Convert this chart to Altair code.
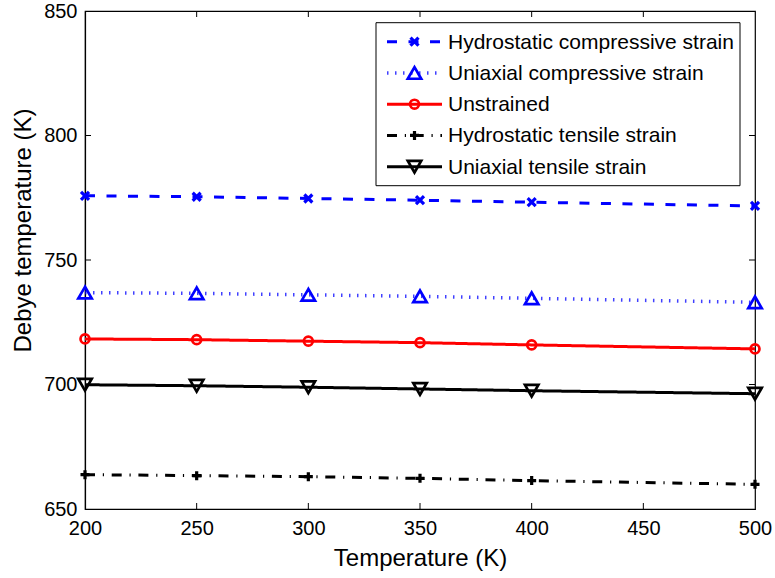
import altair as alt
import pandas as pd

# ---- data ----
temperature = [200, 250, 300, 350, 400, 500]
hydro_comp = [775.8, 775.4, 774.7, 774.0, 773.2, 771.7]
uni_comp = [736.9, 736.6, 736.0, 735.4, 734.6, 733.0]
unstrained = [718.3, 718.0, 717.4, 716.8, 715.9, 714.3]
hydro_tens = [663.8, 663.4, 663.0, 662.3, 661.4, 659.9]
uni_tens = [699.9, 699.5, 698.9, 698.2, 697.5, 696.3]

series_names = [
    "Hydrostatic compressive strain",
    "Uniaxial compressive strain",
    "Unstrained",
    "Hydrostatic tensile strain",
    "Uniaxial tensile strain",
]
series_values = [hydro_comp, uni_comp, unstrained, hydro_tens, uni_tens]

x_ticks = [200, 250, 300, 350, 400, 450, 500]
y_ticks = [650, 700, 750, 800, 850]
x_inner = [250, 300, 350, 400, 450]
y_inner = [700, 750, 800]

# ---- styles ----
X_PATH = "M-1,-1L1,1M1,-1L-1,1"
PLUS_PATH = "M-1,0H1M0,-1V1"
styles = [
    dict(color="#0000ff", dash=[10, 11.5], width=3, shape=X_PATH, size=64, sw=3.2, opacity=1),
    dict(color="#0000ff", dash=[1.5, 6.5], width=3.5, shape="triangle-up", size=180, sw=2.7, opacity=0.75),
    dict(color="#ff0000", dash=[1, 0], width=3, shape="circle", size=80, sw=2.7, opacity=1),
    dict(color="#000000", dash=[10, 7.8, 1.2, 7.7], width=3, shape=PLUS_PATH, size=81, sw=3.2, opacity=1),
    dict(color="#000000", dash=[1, 0], width=3, shape="triangle-down", size=180, sw=2.7, opacity=1),
]

W, H = 670, 498
FONT = "Liberation Sans"

x_enc = alt.X(
    "T:Q",
    scale=alt.Scale(domain=[200, 500], nice=False, zero=False),
    axis=alt.Axis(
        values=x_ticks, ticks=False, tickSize=0, labelPadding=9, labelFlush=False,
        labelOverlap=False, labelFontSize=20, labelFont=FONT, labelColor="black",
        domainColor="black", domainWidth=1.2, grid=False,
        title="Temperature (K)", titleFont=FONT, titleFontSize=24, titleFontWeight="normal",
        titleColor="black", titleBaseline="alphabetic", titleY=56,
    ),
)
y_enc = alt.Y(
    "D:Q",
    scale=alt.Scale(domain=[650, 850], nice=False, zero=False),
    axis=alt.Axis(
        values=y_ticks, ticks=False, tickSize=0, labelPadding=8,
        labelOverlap=False, labelFontSize=20, labelFont=FONT, labelColor="black",
        labelBaseline="middle",
        domainColor="black", domainWidth=1.2, grid=False,
        title="Debye temperature (K)", titleFont=FONT, titleFontSize=24,
        titleFontWeight="normal", titleColor="black", titleAngle=270,
        titleAlign="center", titleBaseline="alphabetic", titleX=-55, titleY=219,
    ),
)

layers = []

# inward tick marks (MATLAB box style)
xt = pd.DataFrame({"T": x_inner})
yt = pd.DataFrame({"D": y_inner})
layers.append(alt.Chart(xt).mark_rule(color="black", strokeWidth=1).encode(
    x=x_enc, y=alt.value(H), y2=alt.value(H - 6)))
layers.append(alt.Chart(xt).mark_rule(color="black", strokeWidth=1).encode(
    x=x_enc, y=alt.value(0), y2=alt.value(6)))
layers.append(alt.Chart(yt).mark_rule(color="black", strokeWidth=1).encode(
    y=y_enc, x=alt.value(0), x2=alt.value(6)))
layers.append(alt.Chart(yt).mark_rule(color="black", strokeWidth=1).encode(
    y=y_enc, x=alt.value(W), x2=alt.value(W - 6)))

# series lines and markers
for name, vals, st in zip(series_names, series_values, styles):
    df = pd.DataFrame({"T": temperature, "D": vals, "name": name})
    layers.append(alt.Chart(df).mark_line(
        color=st["color"], strokeWidth=st["width"], strokeDash=st["dash"],
        opacity=st["opacity"]).encode(x=x_enc, y=y_enc))
for name, vals, st in zip(series_names, series_values, styles):
    df = pd.DataFrame({"T": temperature, "D": vals, "name": name})
    layers.append(alt.Chart(df).mark_point(
        shape=st["shape"], size=st["size"], filled=False, color=st["color"],
        strokeWidth=st["sw"], opacity=1).encode(x=x_enc, y=y_enc))

# manual legend (MATLAB style)
LX0, LX1, LY0, LY1 = 291, 655, 11.7, 174.7
layers.append(alt.Chart(pd.DataFrame({"a": [0]})).mark_rect(
    fill="white", stroke="black", strokeWidth=1).encode(
    x=alt.value(LX0), x2=alt.value(LX1), y=alt.value(LY0), y2=alt.value(LY1)))
for i, (name, st) in enumerate(zip(series_names, styles)):
    ry = 30.7 + i * 31.25
    lb = alt.Chart(pd.DataFrame({"name": [name]}))
    layers.append(lb.mark_rule(
        color=st["color"], strokeWidth=st["width"], strokeDash=st["dash"],
        opacity=st["opacity"]).encode(
        x=alt.value(302), x2=alt.value(357), y=alt.value(ry)))
    layers.append(lb.mark_point(
        shape=st["shape"], size=st["size"], filled=False, color=st["color"],
        strokeWidth=st["sw"], opacity=1).encode(x=alt.value(329.5), y=alt.value(ry)))
    layers.append(lb.mark_text(
        align="left", baseline="middle", font=FONT, fontSize=21, color="black").encode(
        x=alt.value(363), y=alt.value(ry + 1), text="name:N"))

chart = alt.layer(*layers).properties(
    width=W, height=H,
    autosize=alt.AutoSizeParams(type="none"),
    padding={"left": 85, "top": 11, "right": 20, "bottom": 69},
    background="white",
).configure_view(stroke="black", strokeWidth=1.2)

chart.save("out.html", embed_options={"renderer": "svg", "actions": False})
